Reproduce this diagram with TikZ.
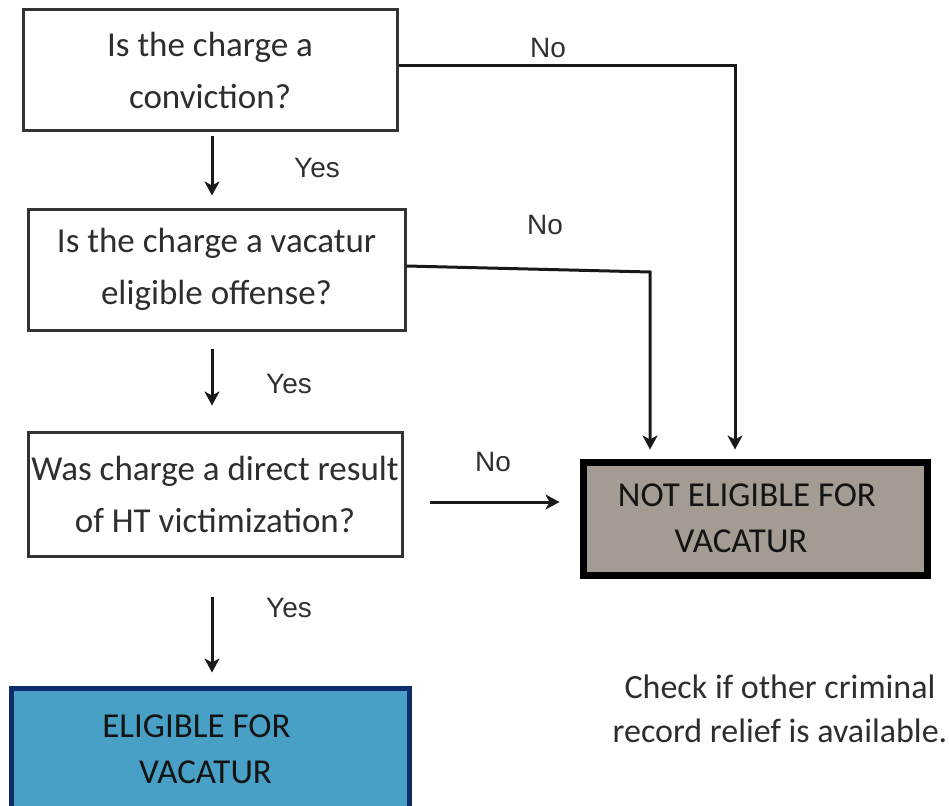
\documentclass[tikz,border=0pt]{standalone}
\usepackage{fontspec}
\setmainfont{Carlito}
\newfontfamily\labelfont{Liberation Sans}
\usetikzlibrary{arrows.meta}
\definecolor{boxtext}{HTML}{2E2E2E}
\definecolor{labeltext}{HTML}{303030}
\definecolor{notfill}{RGB}{164,155,146}
\definecolor{okfill}{RGB}{72,160,198}
\definecolor{okedge}{RGB}{12,44,108}
\begin{document}
\begin{tikzpicture}[x=1pt,y=-1pt,
  question/.style={draw=black!80, line width=3pt, fill=white, inner sep=0pt,
    align=center, text=boxtext, font=\fontsize{35}{52}\selectfont},
  outcome/.style={inner sep=0pt, align=center, text=black!92,
    font=\fontsize{35}{46}\selectfont},
  answer/.style={font=\labelfont\fontsize{28}{32}\selectfont, text=labeltext, inner sep=0pt},
  arr/.style={line width=3pt, draw=black!90,
    -{Stealth[length=14pt,width=15pt,inset=4pt]}}]
\useasboundingbox (0,0) rectangle (949,805);
\clip (0,0) rectangle (949,805);

% decision boxes
\node[question, minimum width=374pt, minimum height=121pt] (q1) at (210,70.5)
  {Is the charge a\\conviction?};
\node[question, minimum width=377pt, minimum height=121pt] (q2) at (216.5,269.5)
  {Is the charge a vacatur\\eligible offense?};
\node[question, minimum width=374pt, minimum height=124pt] (q3) at (215,494)
  {Was charge a direct result\\of HT victimization?};

% outcomes
\node[outcome, draw=okedge, line width=5pt, fill=okfill,
  minimum width=398pt, minimum height=122pt] (yes) at (210.5,749)
  {ELIGIBLE FOR\hspace*{28pt}\\VACATUR\hspace*{10pt}};
\node[outcome, draw=black, line width=7pt, fill=notfill,
  minimum width=344pt, minimum height=113pt] (no) at (755,518.5)
  {NOT ELIGIBLE FOR\hspace*{16pt}\\VACATUR\hspace*{28pt}};

% "yes" arrows
\draw[arr, shorten <=4pt, shorten >=12pt] ([xshift=2pt]q1.south) -- ([xshift=2pt]q1.south |- q2.north);
\draw[arr, shorten <=17pt, shorten >=25pt] ([xshift=-4.5pt]q2.south) -- ([xshift=-4.5pt]q2.south |- q3.north);
\draw[arr, shorten <=39pt, shorten >=13pt] ([xshift=-3pt]q3.south) -- ([xshift=-3pt]q3.south |- yes.north);

% "no" arrows
\coordinate (bend1) at (735,66);
\coordinate (bend2) at (650,272);
\draw[arr, shorten >=9pt] ([yshift=4.5pt]q1.east) -- (bend1) -- (bend1 |- no.north);
\draw[arr, shorten >=9pt] ([yshift=3.5pt]q2.east) -- (bend2) -- (bend2 |- no.north);
\draw[arr, shorten <=26pt, shorten >=20pt] ([yshift=-8pt]q3.east) -- ([yshift=-8pt]q3.east -| no.west);

% answer labels
\node[answer] (y1) at (317,168) {Yes};
\node[answer] (y2) at (289,384) {Yes};
\node[answer] (y3) at (289,608) {Yes};
\node[answer] (n1) at (548,48) {No};
\node[answer] (n2) at (545,225) {No};
\node[answer] (n3) at (493,462) {No};

% note
\node[align=center, text=boxtext, inner sep=0pt, font=\fontsize{34}{44}\selectfont]
  (note) at (780,709) {Check if other criminal\\record relief is available.};
\end{tikzpicture}
\end{document}
